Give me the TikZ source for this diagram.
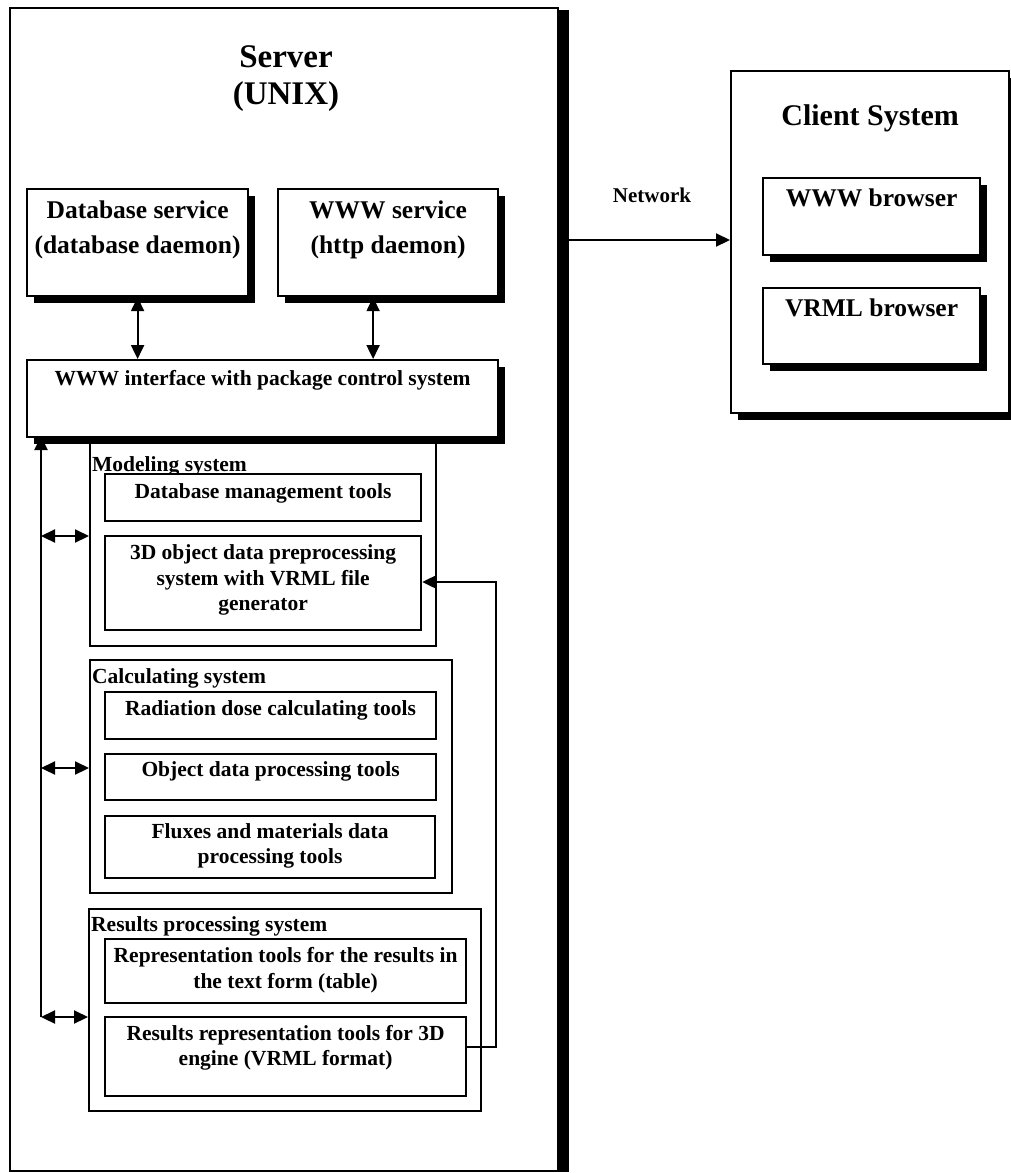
\documentclass[tikz,border=0pt]{standalone}
\usepackage{fontspec}
\setmainfont{Liberation Serif}
\usetikzlibrary{arrows.meta,shadows,calc}
\begin{document}
\begin{tikzpicture}[x=1pt,y=-1pt,
  lw/.style={line width=2.2pt},
  box/.style={draw,lw,fill=white,rectangle,inner sep=0pt,anchor=north west},
  shbox/.style={box,drop shadow={shadow xshift=7pt,shadow yshift=-7pt,fill=black,opacity=1}},
  tip/.style={-{Triangle[length=14pt,width=13pt]}},
  dtip/.style={{Triangle[length=14pt,width=13pt]}-{Triangle[length=14pt,width=13pt]}},
  conn/.style={lw},
  big/.style={font=\fontsize{33}{37}\selectfont\bfseries,align=center},
  mid/.style={font=\fontsize{25.5}{35}\selectfont\bfseries,align=center},
  txt/.style={font=\fontsize{21.5}{25.5}\selectfont\bfseries,align=center,inner sep=0pt},
  ttl/.style={font=\fontsize{21.5}{25.5}\selectfont\bfseries,inner sep=0pt,anchor=west}
]
\useasboundingbox (0,0) rectangle (1011,1173);
\fill[white] (0,0) rectangle (1011,1173);

% Server
\node[box,minimum width=548pt,minimum height=1163pt] (server) at (9,7) {};
\fill (server.north east) ++(0,3) rectangle ($(server.south east)+(10,0)$);
\node[big] (srvt) at (286,79) {Server\\(UNIX)};

% Top service boxes
\node[shbox,minimum width=221pt,minimum height=107pt] (db) at (26,188) {};
\node[mid] (dbt) at ($(db.north)+(0,42)$) {Database service\\(database daemon)};
\node[shbox,minimum width=220pt,minimum height=107pt] (www) at (277,188) {};
\node[mid] (wwwt) at ($(www.north)+(0,42)$) {WWW service\\(http daemon)};

\node[shbox,minimum width=471pt,minimum height=77pt] (iface) at (26,359) {};
\node[txt] (ifacet) at ($(iface.north)+(0,21)$) {WWW interface with package control system};

\draw[conn,dtip] (db.south) -- (db.south |- iface.north);
\draw[conn,dtip] ([xshift=-15pt]www.south) -- ([xshift=-15pt]www.south |- iface.north);

% Modeling system
\node[box,minimum width=346pt,minimum height=203pt] (model) at (89,442) {};
\node[ttl] (modelt) at (92,466) {Modeling system};
\node[box,minimum width=316pt,minimum height=47pt] (dbm) at (104,473) {};
\node[txt] (dbmt) at ($(dbm.north)+(0,20)$) {Database management tools};
\node[box,minimum width=316pt,minimum height=94pt] (obj) at (104,535) {};
\node[txt] (objt) at ($(obj.north)+(0,45)$) {3D object data preprocessing\\system with VRML file\\generator};

% Calculating system
\node[box,minimum width=362pt,minimum height=233pt] (calc) at (89,659) {};
\node[ttl] (calct) at (92,678) {Calculating system};
\node[box,minimum width=331pt,minimum height=47pt] (rad) at (104,691) {};
\node[txt] (radt) at ($(rad.north)+(0,19)$) {Radiation dose calculating tools};
\node[box,minimum width=331pt,minimum height=46pt] (odp) at (104,753) {};
\node[txt] (odpt) at ($(odp.north)+(0,18)$) {Object data processing tools};
\node[box,minimum width=330pt,minimum height=62pt] (flux) at (104,815) {};
\node[txt] (fluxt) at ($(flux.north)+(0,31)$) {Fluxes and materials data\\processing tools};

% Results processing system
\node[box,minimum width=392pt,minimum height=202pt] (res) at (88,908) {};
\node[ttl] (rest) at (91,926) {Results processing system};
\node[box,minimum width=361pt,minimum height=64pt] (rep) at (104,938) {};
\node[txt] (rept) at ($(rep.north)+(0,32)$) {Representation tools for the results in\\the text form (table)};
\node[box,minimum width=361pt,minimum height=79pt] (r3d) at (104,1016) {};
\node[txt] (r3dt) at ($(r3d.north)+(0,32)$) {Results representation tools for 3D\\engine (VRML format)};

% Left bus
\coordinate (busbot) at (41,1017);
\coordinate (bustop) at (41,436);
\draw[conn,tip] (busbot) -- (bustop);
\coordinate (bm) at (41,536);
\coordinate (bc) at (41,768);
\draw[conn,dtip] (bm) -- (bm -| model.west);
\draw[conn,dtip] (bc) -- (bc -| calc.west);
\draw[conn,dtip] (busbot) -- (busbot -| res.west);

% Feedback
\coordinate (fb1) at (496,1047);
\coordinate (fb2) at (496,582);
\draw[conn,tip] (fb1 -| r3d.east) -- (fb1) -- (fb2) -- (fb2 -| obj.east);

% Client system
\node[shbox,minimum width=278pt,minimum height=342pt] (client) at (730,70) {};
\node[big,font=\fontsize{30}{35}\selectfont\bfseries] (clientt) at ($(client.north)+(0,48)$) {Client System};
\node[shbox,minimum width=217pt,minimum height=77pt] (wwwb) at (762,177) {};
\node[mid] (wwwbt) at ($(wwwb.north)+(0,21)$) {WWW browser};
\node[shbox,minimum width=217pt,minimum height=76pt] (vrml) at (762,287) {};
\node[mid] (vrmlt) at ($(vrml.north)+(0,21)$) {VRML browser};

% Network
\node[txt,font=\fontsize{21}{25}\selectfont\bfseries] (net) at (652,195) {Network};
\coordinate (netl) at (567,240);
\draw[conn,tip] (netl) -- (netl -| client.west);
\end{tikzpicture}
\end{document}
